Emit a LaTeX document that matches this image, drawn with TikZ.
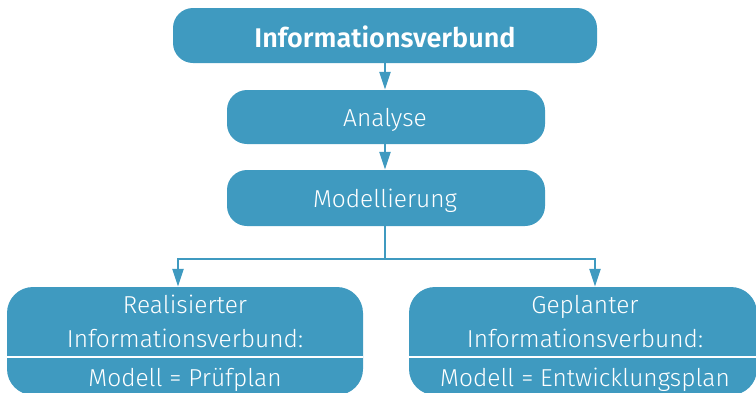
\documentclass[tikz,border=0pt]{standalone}
\usepackage{fontspec}
\IfFontExistsTF{Fira Sans Book}{%
  \setmainfont{Fira Sans Book}[BoldFont={Fira Sans SemiBold}]}{%
  \IfFontExistsTF{Fira Sans Light}{%
    \setmainfont{Fira Sans Light}[BoldFont={Fira Sans SemiBold}]}{%
    \setmainfont{Fira Sans}}}
\usetikzlibrary{arrows.meta}
\definecolor{boxblue}{RGB}{63,154,192}
\tikzset{
  box/.style={fill=boxblue, rounded corners=20pt, inner sep=0pt},
  lbl/.style={text=white, font=\fontsize{24.5}{29}\selectfont, anchor=base, inner sep=0pt},
  conn/.style={draw=boxblue, line width=2.6pt, -{Triangle[width=11pt,length=18pt]}},
  link/.style={draw=boxblue, line width=2.6pt},
  sep/.style={draw=white, line width=2.6pt}
}
\begin{document}
\begin{tikzpicture}[x=1pt,y=-1pt]
\useasboundingbox (0,0) rectangle (756,392);
% boxes
\node[box, minimum width=424pt, minimum height=55pt] (top) at (385,35.5) {};
\node[box, minimum width=318pt, minimum height=54pt] (ana) at (386,117) {};
\node[box, minimum width=318pt, minimum height=56pt] (mod) at (386,198) {};
\node[box, rounded corners=26pt, minimum width=356pt, minimum height=108pt] (left) at (185,341) {};
\node[box, rounded corners=26pt, minimum width=348pt, minimum height=108pt] (right) at (583,341) {};
% separators
\coordinate (lsa) at (7,357);
\coordinate (lsb) at (363,357);
\coordinate (rsa) at (409,357);
\coordinate (rsb) at (757,357);
\draw[sep] (lsa) -- (lsb);
\draw[sep] (rsa) -- (rsb);
% texts
\node[lbl, font=\bfseries\fontsize{27}{32}\selectfont] (ttop) at (385,47) {Informationsverbund};
\node[lbl] (tana) at (385,126) {Analyse};
\node[lbl] (tmod) at (385,207) {Modellierung};
\node[lbl] (tl1) at (185,313) {Realisierter};
\node[lbl] (tl2) at (185,347) {Informationsverbund:};
\node[lbl] (tl3) at (185,386) {Modell = Prüfplan};
\node[lbl] (tr1) at (585,313) {Geplanter};
\node[lbl] (tr2) at (585,347) {Informationsverbund:};
\node[lbl] (tr3) at (585,386) {Modell = Entwicklungsplan};
% connectors
\coordinate (jn) at (385,259);
\coordinate (jl) at (178,259);
\coordinate (jr) at (595,259);
\draw[conn] (top.south -| jn) -- (ana.north -| jn);
\draw[conn] (ana.south -| jn) -- (mod.north -| jn);
\draw[link] (mod.south -| jn) -- (jn);
\draw[conn] (jn) -- (jl) -- (jl |- left.north);
\draw[conn] (jn) -- (jr) -- (jr |- right.north);
\end{tikzpicture}
\end{document}
